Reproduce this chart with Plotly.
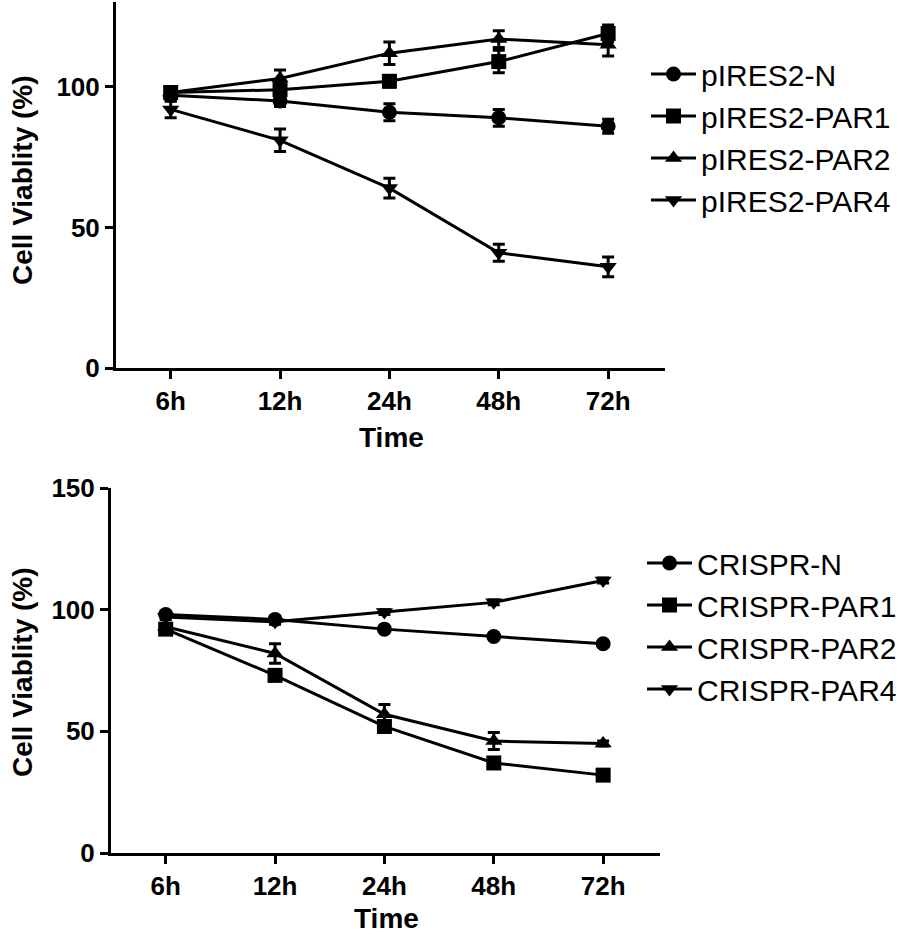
import plotly.graph_objects as go

time_labels = ["6h", "12h", "24h", "48h", "72h"]

# Top panel (pIRES2)
pires_names = ["pIRES2-N", "pIRES2-PAR1", "pIRES2-PAR2", "pIRES2-PAR4"]
pires_n = [97, 95, 91, 89, 86]
pires_n_err = [2, 2, 3, 3, 2.5]
pires_par1 = [98, 99, 102, 109, 119]
pires_par1_err = [2, 3, 2, 4, 3]
pires_par2 = [98, 103, 112, 117, 115]
pires_par2_err = [2, 3, 4, 3, 4]
pires_par4 = [92, 81, 64, 41, 36]
pires_par4_err = [3, 4, 3.5, 3, 3.5]

# Bottom panel (CRISPR)
crispr_names = ["CRISPR-N", "CRISPR-PAR1", "CRISPR-PAR2", "CRISPR-PAR4"]
crispr_n = [98, 96, 92, 89, 86]
crispr_n_err = [1, 1, 1, 1, 1]
crispr_par1 = [92, 73, 52, 37, 32]
crispr_par1_err = [1, 1.5, 1.5, 1, 1]
crispr_par2 = [93, 82, 57, 46, 45]
crispr_par2_err = [1, 4, 4, 3.5, 1]
crispr_par4 = [97, 95, 99, 103, 112]
crispr_par4_err = [1, 1, 1, 1, 1]

x_title = "Time"
y_title = "Cell Viablity (%)"

symbols = ["circle", "square", "triangle-up", "triangle-down"]
FONT = "Arial, Liberation Sans, sans-serif"

fig = go.Figure()

top_series = [pires_n, pires_par1, pires_par2, pires_par4]
top_errs = [pires_n_err, pires_par1_err, pires_par2_err, pires_par4_err]
bot_series = [crispr_n, crispr_par1, crispr_par2, crispr_par4]
bot_errs = [crispr_n_err, crispr_par1_err, crispr_par2_err, crispr_par4_err]

for name, ys, es, sym in zip(pires_names, top_series, top_errs, symbols):
    fig.add_trace(go.Scatter(
        x=time_labels, y=ys, name=name, mode="lines+markers",
        line=dict(color="black", width=3),
        marker=dict(symbol=sym, size=15, color="black"),
        error_y=dict(type="data", array=es, color="black", thickness=3, width=6),
        xaxis="x", yaxis="y", legend="legend",
    ))

for name, ys, es, sym in zip(crispr_names, bot_series, bot_errs, symbols):
    fig.add_trace(go.Scatter(
        x=time_labels, y=ys, name=name, mode="lines+markers",
        line=dict(color="black", width=3),
        marker=dict(symbol=sym, size=15, color="black"),
        error_y=dict(type="data", array=es, color="black", thickness=3, width=6),
        xaxis="x2", yaxis="y2", legend="legend2",
    ))

W, H = 898, 937

def px_x(a, b):
    return [a / W, b / W]

def px_y(top, bottom):
    return [(H - bottom) / H, (H - top) / H]

axis_common = dict(
    showline=True, linecolor="black", linewidth=3,
    ticks="outside", tickcolor="black", tickwidth=3, ticklen=8,
    showgrid=False, zeroline=False, automargin=False,
    tickfont=dict(family=FONT, size=26, color="black", weight="bold"),
)

title_font = dict(family=FONT, size=28, color="black", weight="bold")
ytitle_font = dict(family=FONT, size=28, color="black", weight="bold")

annotations = [
    dict(text=x_title, x=391 / W, y=(H - 437) / H, xref="paper", yref="paper",
         showarrow=False, font=title_font, xanchor="center", yanchor="middle"),
    dict(text=x_title, x=386 / W, y=(H - 918) / H, xref="paper", yref="paper",
         showarrow=False, font=title_font, xanchor="center", yanchor="middle"),
    dict(text=y_title, x=22 / W, y=(H - 180) / H, xref="paper", yref="paper",
         showarrow=False, font=ytitle_font, textangle=-90,
         xanchor="center", yanchor="middle"),
    dict(text=y_title, x=22 / W, y=(H - 672) / H, xref="paper", yref="paper",
         showarrow=False, font=ytitle_font, textangle=-90,
         xanchor="center", yanchor="middle"),
]

fig.update_layout(
    width=W, height=H,
    margin=dict(l=0, r=0, t=0, b=0, autoexpand=False),
    paper_bgcolor="white", plot_bgcolor="white",
    font=dict(family=FONT, color="black"),
    xaxis=dict(domain=px_x(116, 665), anchor="y", type="category",
               range=[-0.5, 4.52], **axis_common),
    yaxis=dict(domain=px_y(2, 368), anchor="x", range=[0, 130.2],
               tickvals=[0, 50, 100], **axis_common),
    xaxis2=dict(domain=px_x(111, 660), anchor="y2", type="category",
                range=[-0.5, 4.52], **axis_common),
    yaxis2=dict(domain=px_y(488, 853), anchor="x2", range=[0, 150],
                tickvals=[0, 50, 100, 150], **axis_common),
    annotations=annotations,
    legend=dict(x=646 / W, y=(H - 48) / H, xanchor="left", yanchor="top",
                font=dict(family=FONT, size=30, color="black"),
                bgcolor="rgba(0,0,0,0)", itemwidth=45),
    legend2=dict(x=642 / W, y=(H - 537) / H, xanchor="left", yanchor="top",
                 font=dict(family=FONT, size=30, color="black"),
                 bgcolor="rgba(0,0,0,0)", itemwidth=45, tracegroupgap=0),
    showlegend=True,
)

fig.write_html("out.html", config={"displayModeBar": False},
               post_script="document.body.style.margin='0';")
